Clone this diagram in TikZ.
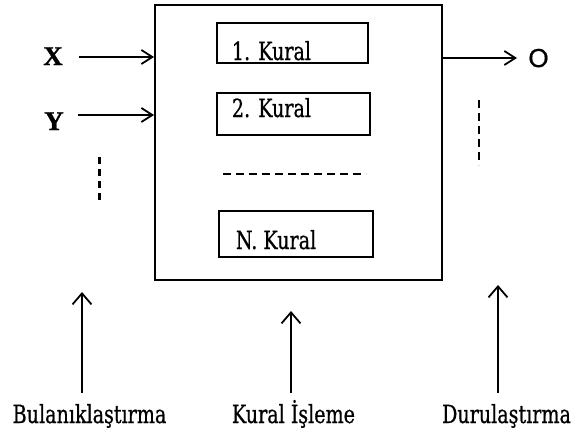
\documentclass[tikz,border=0pt]{standalone}
\usepackage{fontspec}
\setmainfont{DejaVu Serif Condensed}[FakeBold=0.7]
\newfontfamily\xyfont{Liberation Serif}[FakeBold=1.0]
\newfontfamily\ofont{Liberation Sans}[FakeBold=0.8]
\newcommand\nrw[1]{\scalebox{0.85}[1]{#1}}
\usetikzlibrary{arrows.meta}
\begin{document}
\begin{tikzpicture}[x=1pt,y=-1pt,
  line width=1.8pt,
  boxstyle/.style={draw, line width=1.9pt, inner sep=0pt},
  lbl/.style={inner sep=0pt, font=\fontsize{25}{29}\selectfont},
  xylbl/.style={inner sep=0pt, font=\fontsize{27}{30}\selectfont\xyfont\bfseries},
  olbl/.style={inner sep=0pt, font=\fontsize{26}{30}\selectfont\ofont},
  harrow/.style={-{Straight Barb[length=11pt,width=14pt]}},
  varrow/.style={-{Straight Barb[length=11pt,width=19pt]}},
  dotline/.style={dash pattern=on 7pt off 5pt, line width=2.2pt},
  ]
\useasboundingbox (0,0) rectangle (572,434);
% main box
\node[boxstyle, minimum width=287pt, minimum height=275pt] (main) at (298.5,142.5) {};
% rule boxes
\node[boxstyle, minimum width=151pt, minimum height=40pt] (r1) at (292.5,43) {};
\node[boxstyle, minimum width=153pt, minimum height=42pt] (r2) at (293.5,114) {};
\node[boxstyle, minimum width=154pt, minimum height=46pt] (rN) at (296,234) {};
\node[lbl, anchor=base west] (t1) at (231,60) {\nrw{1. Kural}};
\node[lbl, anchor=base west] (t2) at (231,117) {\nrw{2. Kural}};
\node[lbl, anchor=base west] (tN) at (235,249) {\nrw{N. Kural}};
% dashed line inside
\coordinate (d1) at (223,174);
\coordinate (d2) at (366,174);
\draw[dash pattern=on 8pt off 5pt, line width=1.4pt] (d1) -- (d2);
% inputs
\node[xylbl, anchor=base] (X) at (53,65) {X};
\node[xylbl, anchor=base] (Y) at (54,130) {Y};
\coordinate (xs) at (79,57);
\coordinate (ys) at (78,115);
\draw[harrow] (xs) -- (xs -| main.west);
\draw[harrow] (ys) -- (ys -| main.west);
\coordinate (lv1) at (99.5,157);
\coordinate (lv2) at (99.5,203);
\draw[dotline] (lv1) -- (lv2);
% output
\node[olbl, anchor=base] (O) at (538.5,67) {O};
\coordinate (os) at (442,58);
\coordinate (oe) at (517,58);
\draw[harrow] (os) -- (oe);
\coordinate (rv1) at (479,100);
\coordinate (rv2) at (479,165);
\draw[dash pattern=on 8pt off 5pt, line width=2.2pt] (rv1) -- (rv2);
% bottom labels
\node[lbl, anchor=base] (bul) at (89.5,423) {\nrw{Bulanıklaştırma}};
\node[lbl, anchor=base] (kis) at (293.5,423) {\nrw{Kural İşleme}};
\node[lbl, anchor=base] (dur) at (506.5,423) {\nrw{Durulaştırma}};
\coordinate (a1s) at (82,393);
\coordinate (a1e) at (82,292);
\coordinate (a2s) at (291,393);
\coordinate (a2e) at (291,311);
\coordinate (a3s) at (498,393);
\coordinate (a3e) at (498,285);
\draw[varrow] (a1s) -- (a1e);
\draw[varrow] (a2s) -- (a2e);
\draw[varrow] (a3s) -- (a3e);
\end{tikzpicture}
\end{document}
